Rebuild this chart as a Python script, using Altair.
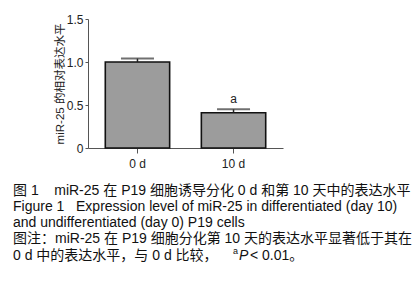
import altair as alt
import pandas as pd

groups = ["0 d", "10 d"]
values = [1.00, 0.41]
err_top = [1.04, 0.45]
marks = ["", "a"]

y_ticks = [0, 0.5, 1.0, 1.5]
y_title = "miR-25 的相对表达水平"

NB = "\u00a0"
caption = [
    "图 1" + NB * 4 + "miR-25 在 P19 细胞诱导分化 0 d 和第 10 天中的表达水平",
    "Figure 1" + NB * 3 + "Expression level of miR-25 in differentiated (day 10)",
    "and undifferentiated (day 0) P19 cells",
    "图注：miR-25 在 P19 细胞分化第 10 天的表达水平显著低于其在",
]
last_line = ["0 d 中的表达水平，与 0 d 比较，", "a", "P", "< 0.01。"]

df = pd.DataFrame({"group": groups, "value": values, "top": err_top, "mark": marks})

FONT = "Liberation Sans, Arial, Noto Sans CJK SC"
W, H = 195, 129

xenc = alt.X("group:N", sort=groups,
             scale=alt.Scale(paddingInner=0.33, paddingOuter=0.18),
             axis=alt.Axis(title=None, labelAngle=0, labelFontSize=12, labelPadding=5,
                           tickSize=5, domainColor="#555", tickColor="#555",
                           labelColor="#222", labelFont=FONT, grid=False))

bars = alt.Chart(df).mark_bar(fill="#9c9c9c", stroke="#111", strokeWidth=1.6).encode(
    x=xenc,
    y=alt.Y("value:Q", scale=alt.Scale(domain=[0, 1.5], nice=False),
            axis=alt.Axis(values=y_ticks, title=y_title, titleFontSize=11.5,
                          titleFont=FONT, titleFontWeight="normal", titleColor="#222",
                          titlePadding=1, labelFontSize=12, labelFont=FONT,
                          labelColor="#222", tickSize=3, domainColor="#555",
                          tickColor="#555", grid=False, labelPadding=2,
                          labelExpr="datum.value == 0 ? '0' : format(datum.value, '.1f')")),
)

err = alt.Chart(df).mark_rule(color="#222", strokeWidth=1.5).encode(
    x=alt.X("group:N", sort=groups), y="value:Q", y2="top:Q")
cap = alt.Chart(df).mark_tick(color="#333", thickness=2, size=33, orient="horizontal").encode(
    x=alt.X("group:N", sort=groups), y="top:Q")
lab = alt.Chart(df).mark_text(fontSize=12, font=FONT, color="#222", dy=-10).encode(
    x=alt.X("group:N", sort=groups), y="top:Q", text="mark:N")

layers = [bars, err, cap, lab]

cap_df = pd.DataFrame({"k": [0]})
X0 = 13 - 88
ys = [172, 188, 204, 220]
for line, yy in zip(caption, ys):
    layers.append(alt.Chart(cap_df).mark_text(
        text=line, align="left", baseline="middle", fontSize=14, font=FONT, color="#111"
    ).encode(x=alt.value(X0), y=alt.value(yy)))

y5 = 237
xs5 = [X0, X0 + 220, X0 + 226, X0 + 237]
for i, (t, xx) in enumerate(zip(last_line, xs5)):
    kw = dict(text=t, align="left", baseline="middle", font=FONT, color="#111", fontSize=14)
    dy = 0
    if i == 1:
        kw["fontSize"] = 9
        dy = -5
    if i == 2:
        kw["fontStyle"] = "italic"
    layers.append(alt.Chart(cap_df).mark_text(dy=dy, **kw).encode(
        x=alt.value(xx), y=alt.value(y5)))

chart = alt.layer(*layers).properties(
    width=W, height=H,
    autosize=alt.AutoSizeParams(type="none"),
    padding={"left": 88, "top": 19, "right": 414 - 88 - W, "bottom": 292 - 19 - H},
    background="white",
).configure_view(stroke=None)

chart.save("out.html", embed_options={"renderer": "svg", "actions": False})
